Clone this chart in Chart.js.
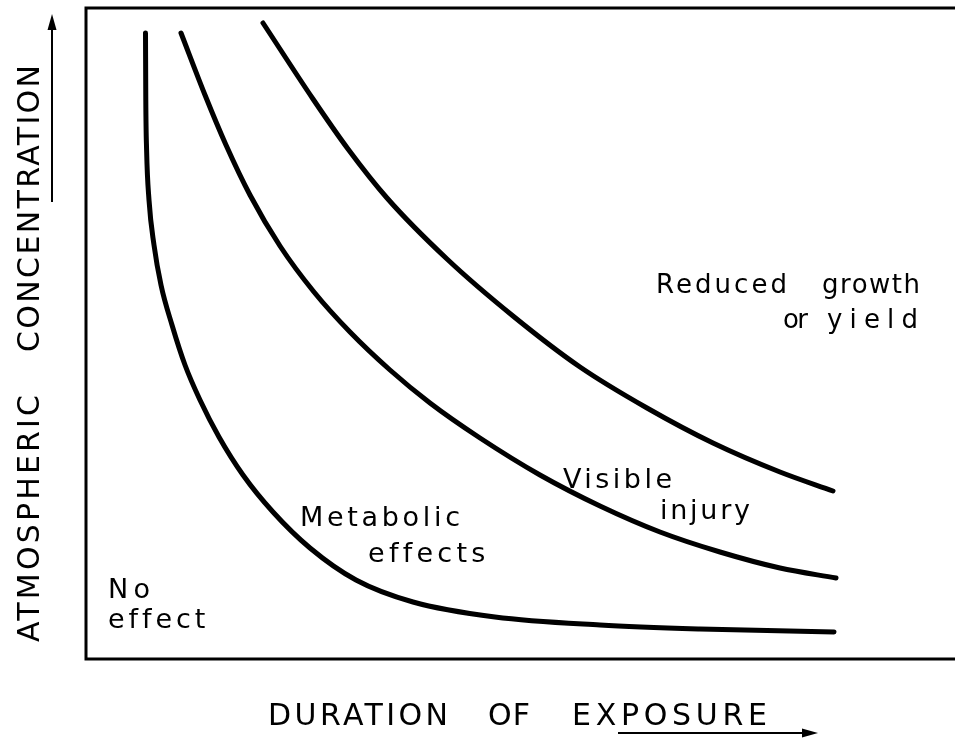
<!DOCTYPE html>
<html>
<head>
<meta charset="utf-8">
<script src="https://cdn.jsdelivr.net/npm/chart.js@4/dist/chart.umd.min.js"></script>
<style>
  html, body { margin: 0; padding: 0; background: #fff; overflow: hidden; }
  #wrap { width: 955px; height: 739px; }
</style>
</head>
<body>
<div id="wrap"><canvas id="grafico"></canvas></div>
<script>
// duration (x) and concentration (y), arbitrary units
const durNoEffect = [59.5, 59.8, 60.6, 63, 68, 75, 86, 99, 114, 133, 157, 187, 224, 270, 327, 409, 514, 614, 748];
const concNoEffect = [626, 559, 509, 459, 414, 374, 334, 294, 259, 222, 184, 147, 111, 79, 57, 42, 34, 30, 27];

const durMetabolic = [95, 119, 140, 164, 194, 228, 264, 304, 344, 394, 454, 514, 574, 634, 694, 750];
const concMetabolic = [626, 564, 514, 464, 413, 367, 327, 289, 256, 221, 184, 153, 127, 107, 91, 81];

const durVisible = [177, 227, 262, 301, 361, 427, 494, 561, 627, 694, 747];
const concVisible = [636, 560, 510, 461, 400, 343, 292, 251, 216, 187, 168];

const xMax = 869;
const yMax = 651;

const fonte = '"DejaVu Sans", "Liberation Sans", sans-serif';

function pontos(xs, ys) {
  return xs.map((x, i) => ({ x: x, y: ys[i] }));
}

function curva(xs, ys) {
  return {
    data: pontos(xs, ys),
    borderColor: "#000",
    borderWidth: 5,
    borderCapStyle: "round",
    borderJoinStyle: "round",
    pointRadius: 0,
    cubicInterpolationMode: "monotone",
    fill: false
  };
}

// text spread so it runs from left to right, like the spaced lettering of the original
function textoEspacado(ctx, texto, esq, dir, base) {
  ctx.letterSpacing = "0px";
  const w0 = ctx.measureText(texto).width;
  const n = texto.length;
  const sp = n > 1 ? (dir - esq - w0) / (n - 1) : 0;
  ctx.letterSpacing = sp + "px";
  ctx.fillText(texto, esq, base);
  ctx.letterSpacing = "0px";
}

const moldura = {
  id: "moldura",
  afterDraw(chart) {
    const ctx = chart.ctx;
    const a = chart.chartArea;
    ctx.save();
    ctx.strokeStyle = "#000";
    ctx.lineWidth = 3;
    ctx.lineCap = "square";
    ctx.beginPath();
    ctx.moveTo(a.right + 5, a.top);
    ctx.lineTo(a.left, a.top);
    ctx.lineTo(a.left, a.bottom);
    ctx.lineTo(a.right + 5, a.bottom);
    ctx.stroke();

    ctx.fillStyle = "#000";
    ctx.textBaseline = "alphabetic";
    ctx.textAlign = "left";

    // region labels
    ctx.font = "26px " + fonte;
    textoEspacado(ctx, "Reduced", 656, 787, 293);
    textoEspacado(ctx, "growth", 822, 920, 293);
    textoEspacado(ctx, "or", 783, 808, 328);
    textoEspacado(ctx, "yield", 827, 918, 328);

    ctx.font = "27px " + fonte;
    textoEspacado(ctx, "Visible", 563, 672, 488);
    textoEspacado(ctx, "injury", 660, 750, 519);
    textoEspacado(ctx, "Metabolic", 300, 460, 526);
    textoEspacado(ctx, "effects", 368, 485, 562);
    textoEspacado(ctx, "No", 108, 150, 598);
    textoEspacado(ctx, "effect", 108, 205, 628);

    // axis titles
    ctx.font = "30px " + fonte;
    textoEspacado(ctx, "DURATION", 268, 448, 725);
    textoEspacado(ctx, "OF", 488, 530, 725);
    textoEspacado(ctx, "EXPOSURE", 572, 767, 725);

    ctx.save();
    ctx.translate(39, 0);
    ctx.rotate(-Math.PI / 2);
    textoEspacado(ctx, "ATMOSPHERIC", -642, -395, 0);
    textoEspacado(ctx, "CONCENTRATION", -352, -65, 0);
    ctx.restore();

    // arrows
    ctx.lineWidth = 2;
    ctx.lineCap = "butt";
    ctx.beginPath();
    ctx.moveTo(52, 202);
    ctx.lineTo(52, 26);
    ctx.moveTo(618, 733);
    ctx.lineTo(806, 733);
    ctx.stroke();
    ctx.beginPath();
    ctx.moveTo(52, 14);
    ctx.lineTo(47.5, 30);
    ctx.lineTo(56.5, 30);
    ctx.closePath();
    ctx.fill();
    ctx.beginPath();
    ctx.moveTo(818, 733);
    ctx.lineTo(802, 728.5);
    ctx.lineTo(802, 737.5);
    ctx.closePath();
    ctx.fill();
    ctx.restore();
  }
};

const grafico = new Chart(document.getElementById("grafico"), {
  type: "line",
  data: {
    datasets: [
      curva(durNoEffect, concNoEffect),
      curva(durMetabolic, concMetabolic),
      curva(durVisible, concVisible)
    ]
  },
  options: {
    responsive: true,
    maintainAspectRatio: false,
    animation: false,
    layout: { padding: { left: 86, top: 8, right: 0, bottom: 80 } },
    scales: {
      x: { type: "linear", min: 0, max: xMax, display: false },
      y: { type: "linear", min: 0, max: yMax, display: false }
    },
    plugins: {
      legend: { display: false },
      tooltip: { enabled: false }
    }
  },
  plugins: [moldura]
});
</script>
</body>
</html>
